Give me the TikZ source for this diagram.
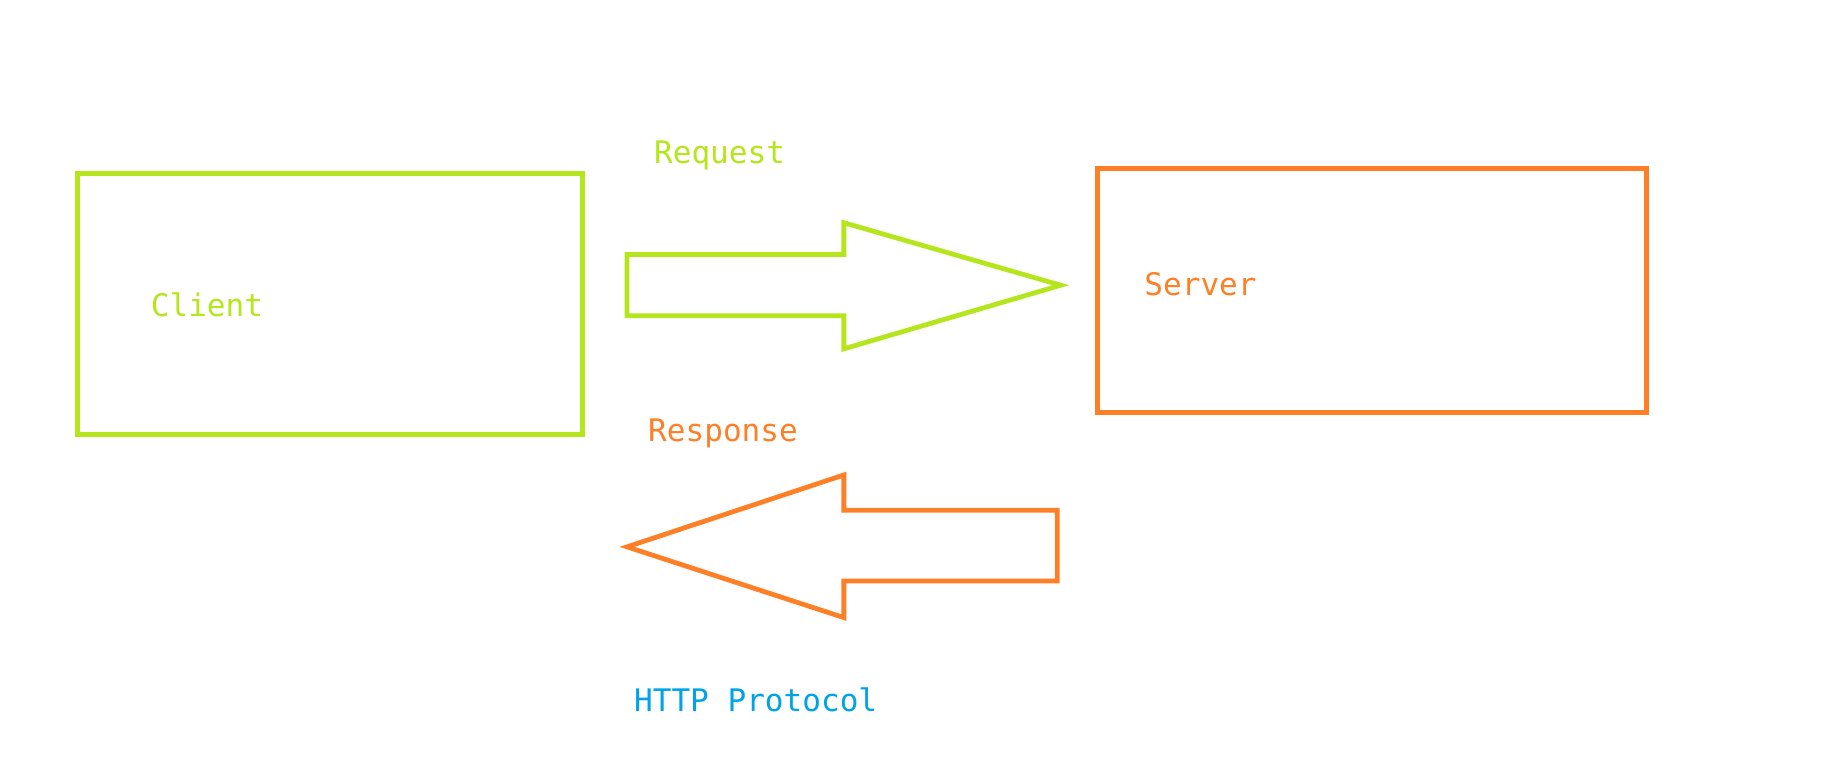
\documentclass[tikz,border=0pt]{standalone}
\usepackage{fontspec}
\setmonofont{DejaVu Sans Mono}
\usetikzlibrary{positioning}
\definecolor{lime}{HTML}{B5E61D}
\definecolor{paintorange}{HTML}{FF7F27}
\definecolor{paintblue}{HTML}{00A2E8}
\begin{document}
\begin{tikzpicture}[x=0.02cm,y=-0.02cm,line width=2.3pt,line join=miter,
    label/.style={anchor=west,inner sep=0pt,font=\ttfamily\fontsize{15}{18}\selectfont}]
   \useasboundingbox (0,0) rectangle (1568,659);

   \node[shape=rectangle,draw=lime,minimum width=8.56cm,minimum height=4.44cm] (client) at (280,258) {};
   \node[shape=rectangle,draw=paintorange,minimum width=9.32cm,minimum height=4.14cm] (server) at (1164,246.5) {};

   \node[label,text=lime] (clienttext) at (126,259) {Client};
   \node[label,text=paintorange] (servertext) at (969,241) {Server};
   \node[label,text=lime] (request) at (553,132) {Request};
   \node[label,text=paintorange] (response) at (548,368) {Response};
   \node[label,text=paintblue] (http) at (536,594) {HTTP Protocol};

    \draw[lime] (532,216) -- (716,216) -- (716,189) -- (900,242) -- (716,296) -- (716,268) -- (532,268) -- cycle;
    \draw[paintorange] (897,433) -- (716,433) -- (716,403) -- (532,464) -- (716,524) -- (716,493) -- (897,493) -- cycle;

\end{tikzpicture}
\end{document}
